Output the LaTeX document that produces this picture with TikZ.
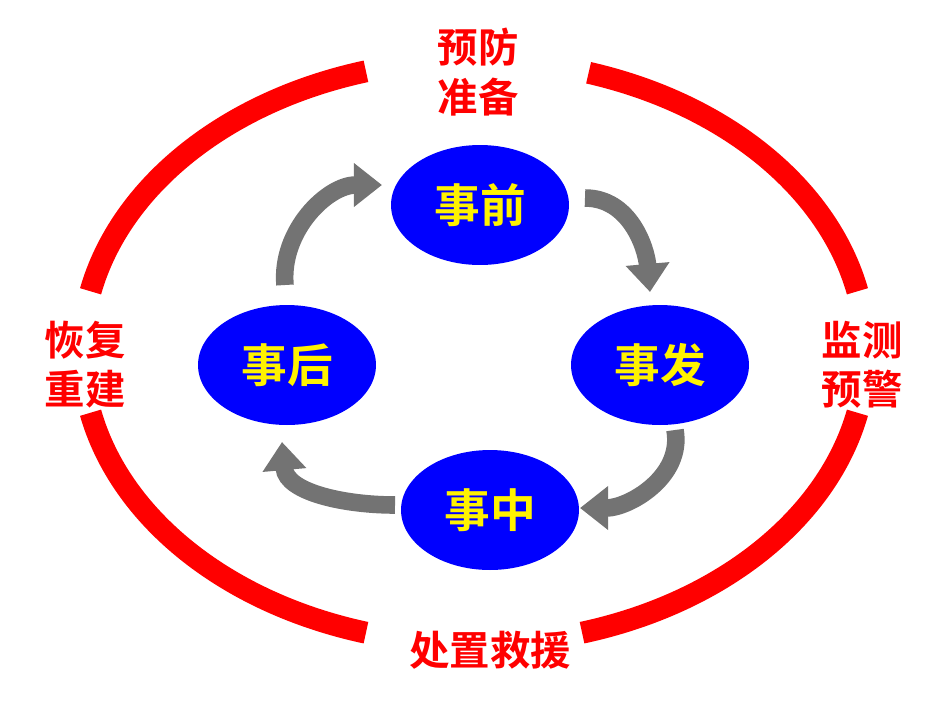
\documentclass[tikz,border=0pt]{standalone}
\usepackage{fontspec}
\setmainfont{Noto Sans CJK SC}[BoldFont={* Bold}]
\usetikzlibrary{arrows.meta, shapes.geometric}

\begin{document}
\begin{tikzpicture}[x=0.02cm, y=-0.02cm, line width=0.75pt,
    ring/.style={draw=red, line width=12.5pt},
    stage/.style={ellipse, fill=blue, minimum width=3.56cm, minimum height=2.4cm, inner sep=0pt,
        text=yellow, font=\bfseries\fontsize{26}{28}\selectfont},
    phase/.style={text=red, font=\bfseries\fontsize{23}{28}\selectfont, align=center},
    turn/.style={draw=gray!90!black, line width=10pt, -{Triangle[length=16pt, width=24pt]}}]
        \useasboundingbox (0,0) rectangle (943,701);

        % outer ring, cut where the texts sit
        \draw[ring] (474,352) +(106:392 and 292) arc (106:168:392 and 292);
        \draw[ring] (474,352) +(192:392 and 292) arc (192:254:392 and 292);
        \draw[ring] (474,352) +(287:392 and 292) arc (287:348:392 and 292);
        \draw[ring] (474,352) +(12:392 and 292) arc (12:74:392 and 292);

        \node[phase](top) at (478,72) {预防\\准备};
        \node[phase](right) at (862,365) {监测\\预警};
        \node[phase](bottom) at (490,650) {处置救援};
        \node[phase](left) at (85,365) {恢复\\重建};

        % stages
        \node[stage](pre) at (480,205) {事前};
        \node[stage](occ) at (660,365) {事发};
        \node[stage](mid) at (490,510) {事中};
        \node[stage](post) at (287,365) {事后};

        % turning arrows
        \draw[turn] (585,198) to[out=0, in=95] (650,292);
        \draw[turn] (675,430) to[out=-80, in=0] (580,508);
        \draw[turn] (395,505) to[out=180, in=-85] (282,442);
        \draw[turn] (285,285) to[out=95, in=180] (382,185);
\end{tikzpicture}
\end{document}
